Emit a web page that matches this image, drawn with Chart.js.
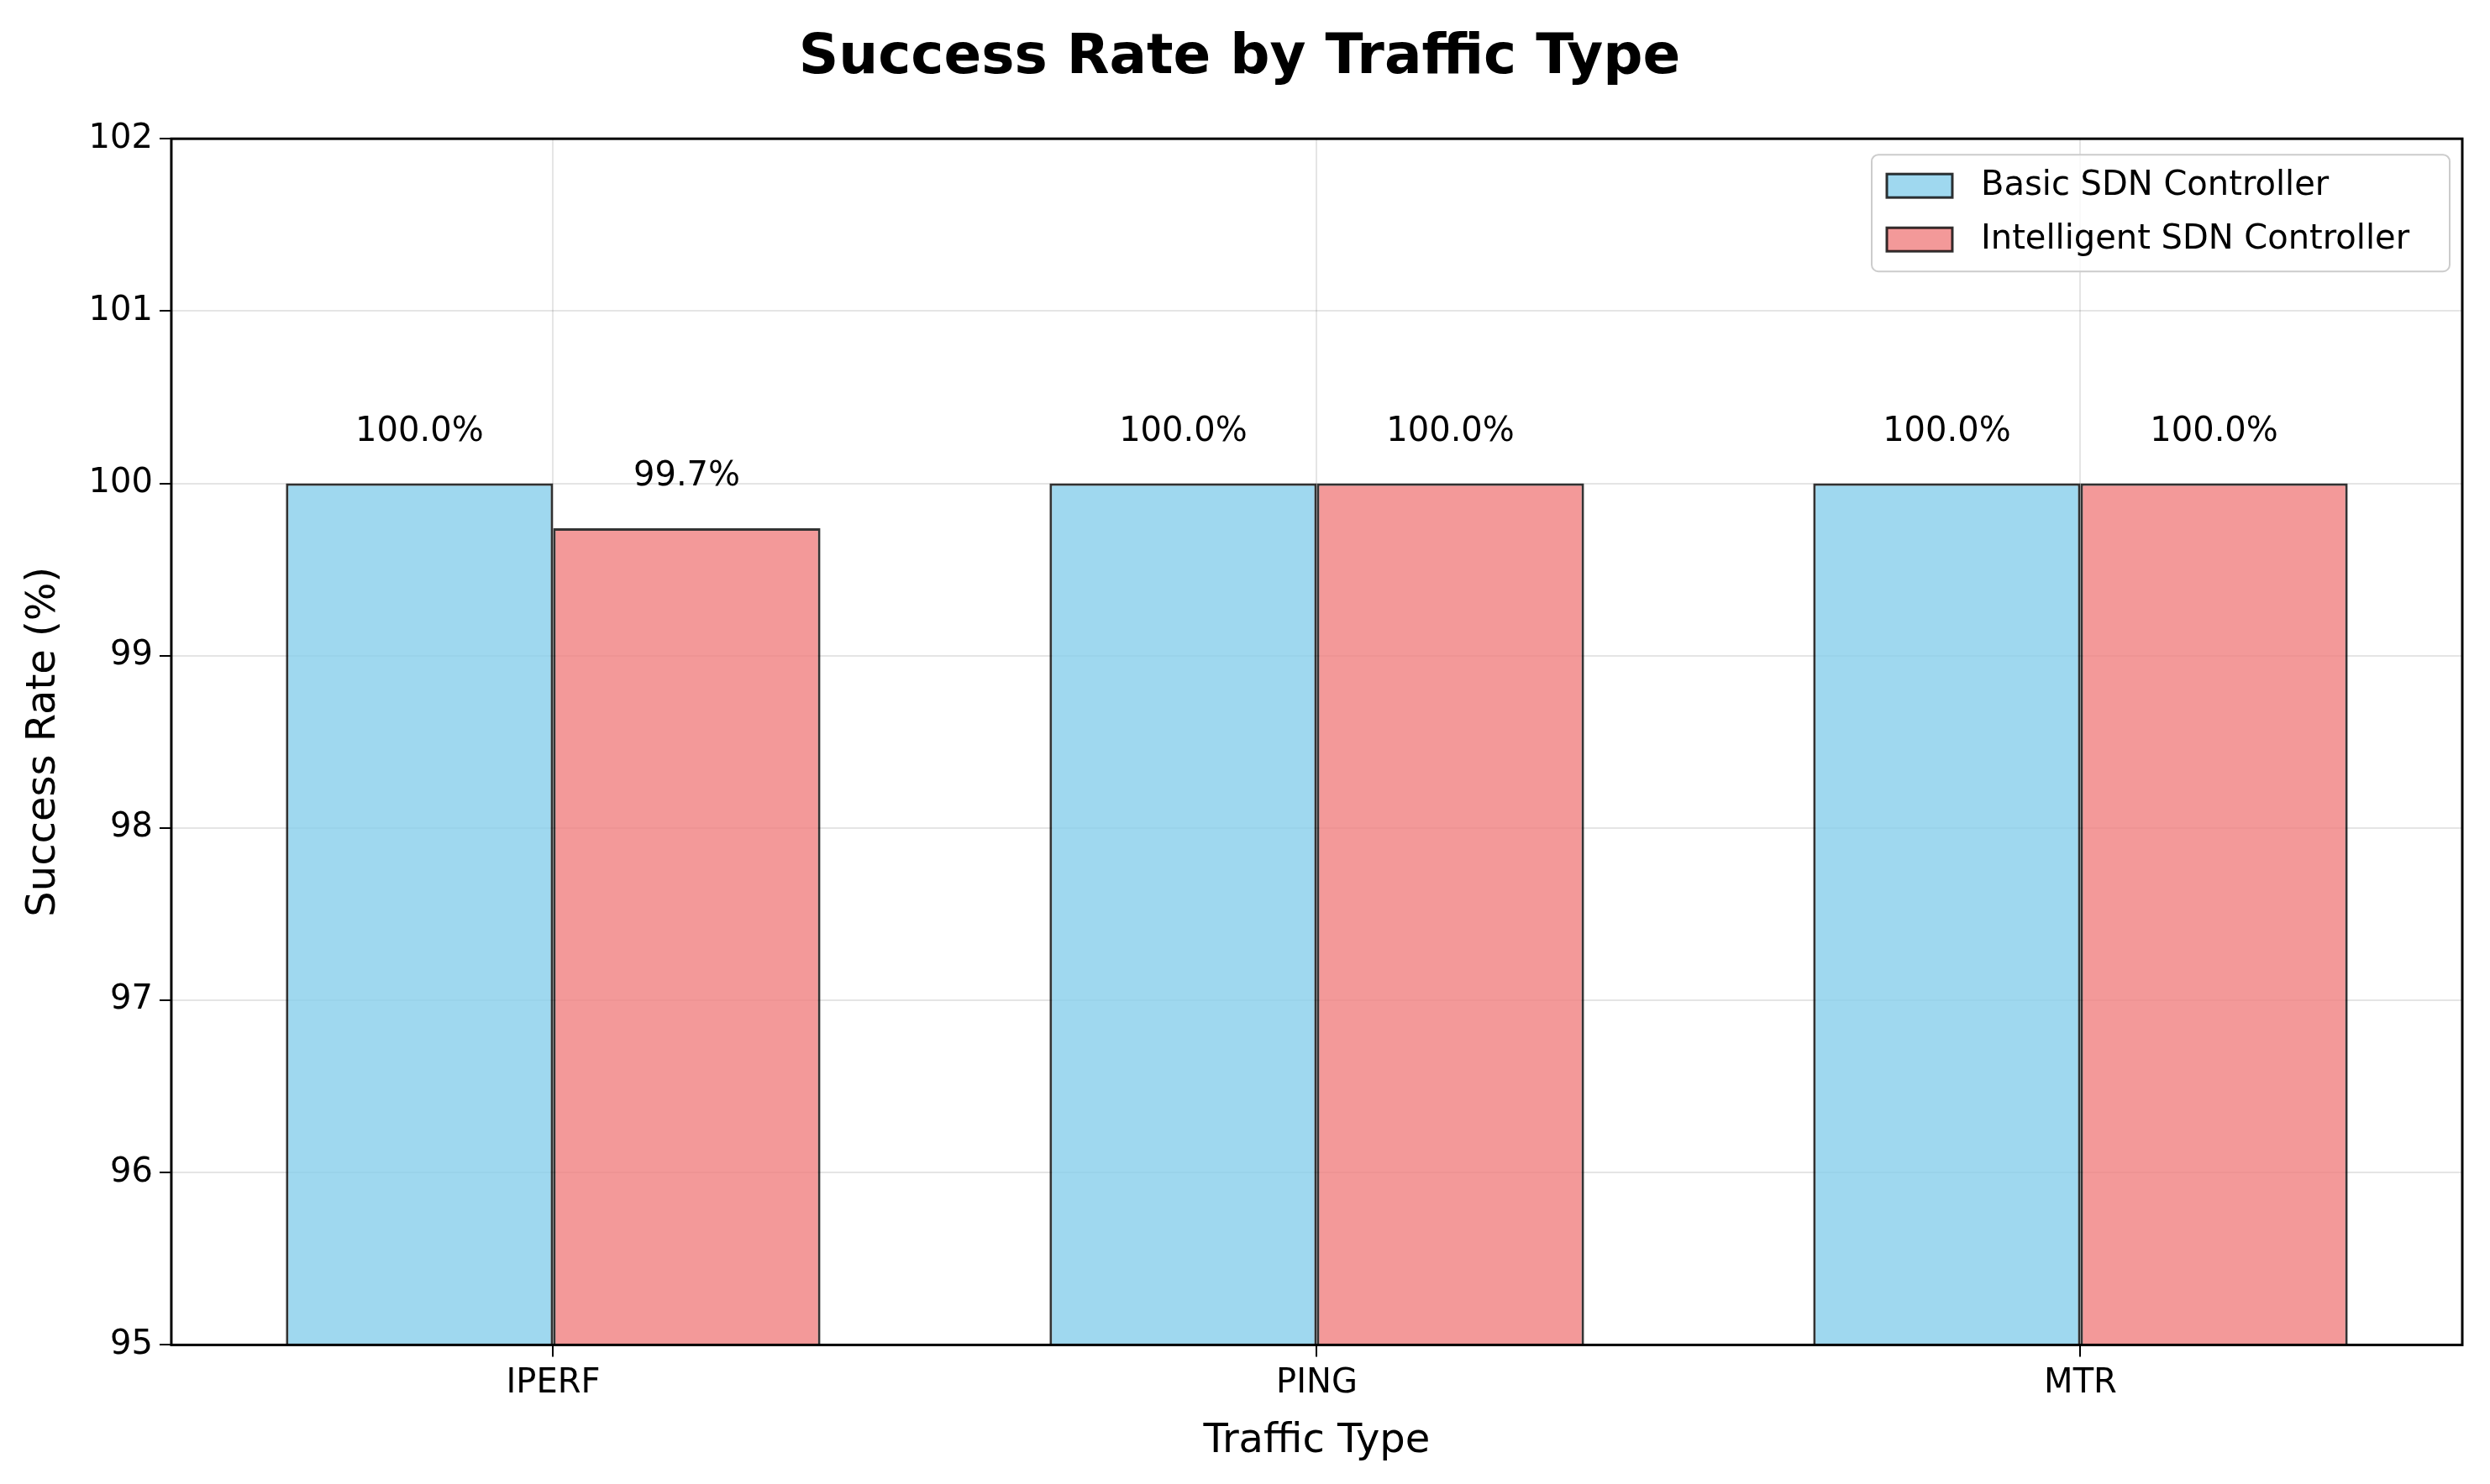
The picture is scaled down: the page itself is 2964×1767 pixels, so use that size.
<!DOCTYPE html>
<html>
<head>
<meta charset="utf-8">
<script src="https://cdn.jsdelivr.net/npm/chart.js@4"></script>
<style>
  html, body { margin: 0; padding: 0; background: #fff; }
  #wrap { width: 2964px; height: 1767px; }
</style>
</head>
<body>
<div id="wrap"><canvas id="chart"></canvas></div>
<script>
const categories = ['IPERF', 'PING', 'MTR'];
const basicRates = [100.0, 100.0, 100.0];
const intelligentRates = [99.74, 100.0, 100.0];
const seriesNames = ['Basic SDN Controller', 'Intelligent SDN Controller'];
const yTicks = [95, 96, 97, 98, 99, 100, 101, 102];

const FONT = 'DejaVu Sans';

// frame around plot area, value labels, and in-plot legend
const extras = {
    id: 'extras',
    afterDatasetsDraw(chart) {
        const ctx = chart.ctx;
        const a = chart.chartArea;
        ctx.save();
        // value labels
        ctx.fillStyle = '#000';
        ctx.font = `40px "${FONT}"`;
        ctx.textAlign = 'center';
        ctx.textBaseline = 'bottom';
        chart.data.datasets.forEach((ds, di) => {
            chart.getDatasetMeta(di).data.forEach((bar, i) => {
                const y = chart.scales.y.getPixelForValue(ds.data[i] + 0.2);
                ctx.fillText(ds.data[i].toFixed(1) + '%', bar.x, y);
            });
        });
        // frame
        ctx.strokeStyle = '#000';
        ctx.lineWidth = 3;
        ctx.strokeRect(a.left, a.top, a.right - a.left, a.bottom - a.top);
        // legend
        const w = 688, h = 139;
        const lx = a.right - 15 - w, ly = a.top + 19;
        ctx.fillStyle = 'rgba(255,255,255,0.8)';
        ctx.strokeStyle = '#ccc';
        ctx.lineWidth = 2;
        ctx.beginPath();
        ctx.roundRect(lx, ly, w, h, 8);
        ctx.fill();
        ctx.stroke();
        ctx.textAlign = 'left';
        ctx.textBaseline = 'middle';
        chart.data.datasets.forEach((ds, di) => {
            const cy = ly + 37 + di * 64;
            ctx.fillStyle = ds.backgroundColor;
            ctx.fillRect(lx + 18, cy - 14, 78, 28);
            ctx.strokeStyle = ds.borderColor;
            ctx.lineWidth = 3;
            ctx.strokeRect(lx + 18, cy - 14, 78, 28);
            ctx.fillStyle = '#000';
            ctx.fillText(ds.label, lx + 130, cy);
        });
        ctx.restore();
    }
};

new Chart(document.getElementById('chart'), {
    type: 'bar',
    data: {
        labels: categories,
        datasets: [
            {
                label: seriesNames[0],
                data: basicRates,
                backgroundColor: 'rgba(135,206,235,0.8)',
                borderColor: 'rgba(0,0,0,0.8)',
                borderWidth: 3,
                borderSkipped: false
            },
            {
                label: seriesNames[1],
                data: intelligentRates,
                backgroundColor: 'rgba(240,128,128,0.8)',
                borderColor: 'rgba(0,0,0,0.8)',
                borderWidth: 3,
                borderSkipped: false
            }
        ]
    },
    options: {
        responsive: true,
        maintainAspectRatio: false,
        animation: false,
        devicePixelRatio: 1,
        layout: { padding: { left: 20, right: 33, top: 8, bottom: 18 } },
        categoryPercentage: 0.7,
        barPercentage: 1.0,
        plugins: {
            legend: { display: false },
            tooltip: { enabled: false },
            title: {
                display: true,
                text: 'Success Rate by Traffic Type',
                color: '#000',
                font: { family: FONT, size: 66, weight: 'bold' },
                padding: { top: 22, bottom: 56 }
            }
        },
        scales: {
            x: {
                grid: { offset: false, color: 'rgba(0,0,0,0.1)', lineWidth: 2, drawTicks: true, tickLength: 14, tickColor: '#000' },
                border: { display: false },
                ticks: { color: '#000', font: { family: FONT, size: 40 }, padding: 8 },
                title: { display: true, text: 'Traffic Type', color: '#000', font: { family: FONT, size: 48 }, padding: { top: 8 } }
            },
            y: {
                min: 95,
                max: 102,
                afterBuildTicks(scale) { scale.ticks = yTicks.map(v => ({ value: v })); },
                grid: { color: 'rgba(0,0,0,0.1)', lineWidth: 2, tickLength: 14, tickColor: '#000' },
                border: { display: false },
                ticks: { color: '#000', font: { family: FONT, size: 40 }, padding: 8 },
                title: { display: true, text: 'Success Rate (%)', color: '#000', font: { family: FONT, size: 48 }, padding: { bottom: 16 } }
            }
        }
    },
    plugins: [extras]
});
</script>
</body>
</html>
